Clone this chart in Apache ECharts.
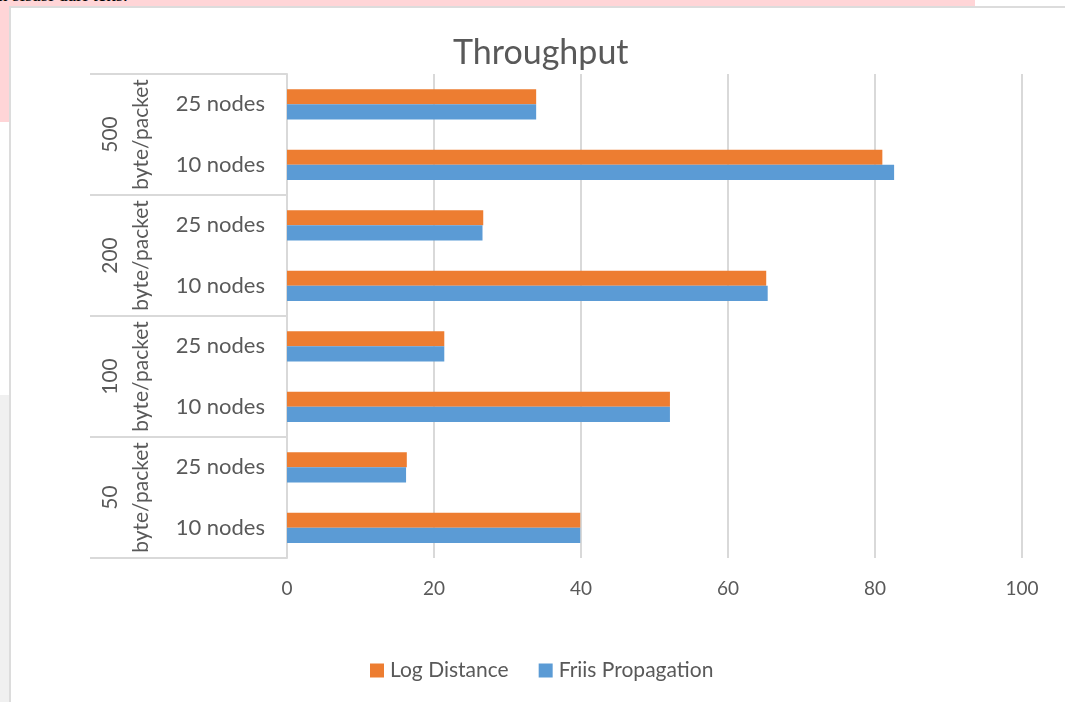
<!DOCTYPE html>
<html>
<head>
<meta charset="utf-8">
<script src="https://cdn.jsdelivr.net/npm/echarts@6/dist/echarts.min.js"></script>
<style>
  html, body { margin: 0; padding: 0; width: 1065px; height: 702px; overflow: hidden; background: #ffffff; }
  .pink-top { position: absolute; left: 0; top: 0; width: 975px; height: 7px; background: #ffd5d7; }
  .pink-left { position: absolute; left: 0; top: 0; width: 9px; height: 122px; background: #ffd5d7; }
  .gray-left { position: absolute; left: 0; top: 395px; width: 9px; height: 307px; background: #f0f0f0; }
  .frame { position: absolute; left: 9px; top: 6px; right: -2px; bottom: -2px; border: 2px solid #dcdcdc; background: #ffffff; }
  .cut-text { position: absolute; left: -2px; top: -16px; font-family: "Liberation Serif", serif; font-size: 19px; color: #000; white-space: nowrap; }
  #chart { position: absolute; left: 0; top: 0; width: 1065px; height: 702px; }
</style>
</head>
<body>
<div class="pink-top"></div>
<div class="pink-left"></div>
<div class="gray-left"></div>
<div class="cut-text">n sisasi dari teks.</div>
<div class="frame"></div>
<div id="chart"></div>
<script>
// Packet sizes (outer level) and node counts (inner level), bottom to top
const packetGroups = ['50\nbyte/packet', '100\nbyte/packet', '200\nbyte/packet', '500\nbyte/packet'];
const nodeLabels = ['10 nodes', '25 nodes', '10 nodes', '25 nodes', '10 nodes', '25 nodes', '10 nodes', '25 nodes'];

// Throughput per configuration, same order as nodeLabels
const logDistance = [39.9, 16.3, 52.1, 21.4, 65.2, 26.7, 81.0, 33.9];
const friisPropagation = [39.9, 16.2, 52.1, 21.4, 65.4, 26.6, 82.6, 33.9];

const xTicks = { min: 0, max: 100, interval: 20 };

const textColor = '#595959';
const gridColor = '#d9d9d9';
const font = 'Lato';

const chart = echarts.init(document.getElementById('chart'), null, { renderer: 'canvas' });

chart.setOption({
  backgroundColor: 'transparent',
  animation: false,
  title: {
    text: 'Throughput',
    left: 448,
    top: 31,
    textStyle: { fontFamily: font, fontSize: 34, fontWeight: 'normal', color: textColor }
  },
  legend: {
    data: ['Log Distance', 'Friis Propagation'],
    left: 365,
    top: 655,
    itemWidth: 14,
    itemHeight: 14,
    itemGap: 30,
    icon: 'rect',
    textStyle: { fontFamily: font, fontSize: 21, color: textColor, padding: [0, 0, 0, 1] }
  },
  grid: { left: 287, right: 43, top: 74, bottom: 144, containLabel: false },
  xAxis: {
    type: 'value',
    min: xTicks.min,
    max: xTicks.max,
    interval: xTicks.interval,
    axisLine: { show: false },
    axisTick: { show: false },
    splitLine: { lineStyle: { color: gridColor, width: 2 } },
    axisLabel: { fontFamily: font, fontSize: 19, color: textColor, margin: 21 }
  },
  yAxis: [
    {
      type: 'category',
      data: nodeLabels,
      axisLine: { show: true, lineStyle: { color: gridColor, width: 2 } },
      axisTick: { show: false },
      axisLabel: { fontFamily: font, fontSize: 22, color: textColor, margin: 22 }
    },
    {
      type: 'category',
      data: packetGroups,
      position: 'left',
      offset: 197,
      axisLine: { show: false },
      axisTick: { show: true, inside: true, length: 197, interval: 0, lineStyle: { color: gridColor, width: 2 } },
      axisLabel: {
        inside: true,
        interval: 0,
        rotate: 90,
        margin: 5,
        fontFamily: font,
        fontSize: 21,
        lineHeight: 31,
        color: textColor
      }
    }
  ],
  series: [
    {
      name: 'Log Distance',
      type: 'bar',
      yAxisIndex: 0,
      data: logDistance,
      barGap: '0%',
      barCategoryGap: '50%',
      itemStyle: { color: '#ED7D31' }
    },
    {
      name: 'Friis Propagation',
      type: 'bar',
      yAxisIndex: 0,
      data: friisPropagation,
      barGap: '0%',
      barCategoryGap: '50%',
      itemStyle: { color: '#5B9BD5' }
    }
  ]
});
</script>
</body>
</html>
